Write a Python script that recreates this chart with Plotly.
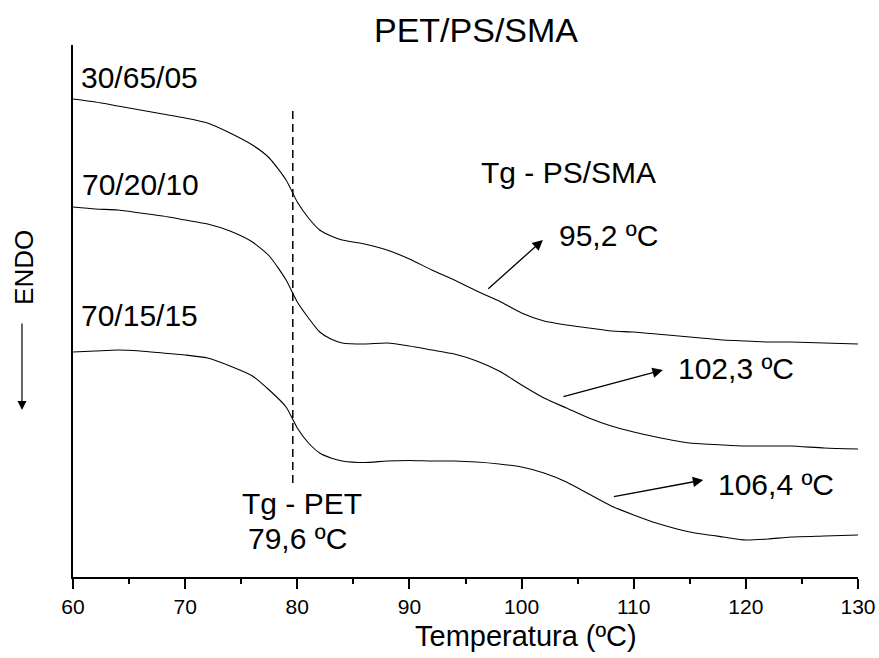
import plotly.graph_objects as go

# DSC heating scans of PET/PS/SMA blends (heat flow in arbitrary units, curves offset)
temperature = [60, 62, 64, 66, 68, 70, 72, 74, 76, 77.5, 79, 80, 81, 82, 83, 84, 86, 88,
               90, 92, 94, 96, 98, 100, 102, 104, 106, 108, 110, 112, 115, 118, 120, 122,
               124, 127, 130]

flow_30_65_05 = [4.78, 4.75, 4.71, 4.67, 4.63, 4.59, 4.54, 4.44, 4.32, 4.19, 3.97, 3.75,
                 3.59, 3.47, 3.41, 3.37, 3.33, 3.27, 3.18, 3.07, 2.97, 2.86, 2.76, 2.64,
                 2.56, 2.52, 2.49, 2.46, 2.45, 2.43, 2.40, 2.37, 2.36, 2.35, 2.35, 2.34, 2.33]

flow_70_20_10 = [3.70, 3.68, 3.67, 3.64, 3.61, 3.57, 3.53, 3.46, 3.35, 3.21, 2.97, 2.75,
                 2.59, 2.45, 2.38, 2.34, 2.33, 2.34, 2.31, 2.27, 2.23, 2.16, 2.06, 1.92,
                 1.79, 1.69, 1.59, 1.51, 1.45, 1.40, 1.34, 1.32, 1.31, 1.31, 1.31, 1.29, 1.28]

flow_70_15_15 = [2.25, 2.26, 2.27, 2.26, 2.24, 2.22, 2.19, 2.11, 2.01, 1.87, 1.70, 1.49,
                 1.34, 1.24, 1.19, 1.16, 1.145, 1.16, 1.165, 1.16, 1.16, 1.15, 1.13, 1.10,
                 1.04, 0.95, 0.83, 0.71, 0.62, 0.54, 0.45, 0.40, 0.37, 0.38, 0.40, 0.41, 0.42]

compositions = ["30/65/05", "70/20/10", "70/15/15"]
label_pos = [(60.55, 5.00), (60.62, 3.93), (60.55, 2.62)]

tg_pet = 79.6
tg_pet_span = (0.94, 4.69)

tg_ps_sma = ["95,2 ºC", "102,3 ºC", "106,4 ºC"]
# arrow tail (on curve) -> head (next to label), in temperature / heat-flow units
tg_arrows = [((96.9, 2.87), (101.9, 3.37)),
             ((103.6, 1.80), (112.6, 2.07)),
             ((108.1, 0.80), (116.2, 0.97))]
tg_label_pos = [(103.15, 3.42), (113.75, 2.09), (117.3, 0.93)]

x_ticks = [60, 70, 80, 90, 100, 110, 120, 130]

FONT = "Liberation Sans, Arial, Helvetica, sans-serif"
BLACK = "#000000"
LABEL_SIZE = 30

fig = go.Figure()

for flow in (flow_30_65_05, flow_70_20_10, flow_70_15_15):
    fig.add_trace(go.Scatter(
        x=temperature, y=flow, mode="lines",
        line=dict(color=BLACK, width=1.1, shape="spline", smoothing=0.6),
        hoverinfo="skip", showlegend=False,
    ))

# Tg of PET, dashed vertical marker
fig.add_trace(go.Scatter(
    x=[tg_pet, tg_pet], y=list(tg_pet_span), mode="lines",
    line=dict(color=BLACK, width=1.5, dash="8px,5px"),
    hoverinfo="skip", showlegend=False,
))

annotations = []
for name, (x, y) in zip(compositions, label_pos):
    annotations.append(dict(x=x, y=y, xref="x", yref="y", text=name, showarrow=False,
                            xanchor="left", yanchor="middle",
                            font=dict(family=FONT, size=LABEL_SIZE, color=BLACK)))

annotations.append(dict(x=96.2, y=4.05, xref="x", yref="y", text="Tg - PS/SMA",
                        showarrow=False, xanchor="left", yanchor="middle",
                        font=dict(family=FONT, size=LABEL_SIZE, color=BLACK)))

for text, (lx, ly) in zip(tg_ps_sma, tg_label_pos):
    annotations.append(dict(x=lx, y=ly, xref="x", yref="y", text=text, showarrow=False,
                            xanchor="left", yanchor="middle",
                            font=dict(family=FONT, size=LABEL_SIZE, color=BLACK)))

for (tail, head) in tg_arrows:
    annotations.append(dict(x=head[0], y=head[1], ax=tail[0], ay=tail[1],
                            xref="x", yref="y", axref="x", ayref="y", text="",
                            showarrow=True, arrowhead=2, arrowsize=1.6, arrowwidth=1.3,
                            arrowcolor=BLACK, standoff=0, startstandoff=0))

annotations.append(dict(x=80.38, y=0.74, xref="x", yref="y", text="Tg - PET",
                        showarrow=False, xanchor="center", yanchor="middle",
                        font=dict(family=FONT, size=LABEL_SIZE, color=BLACK)))
annotations.append(dict(x=80.02, y=0.39, xref="x", yref="y", text="79,6 ºC",
                        showarrow=False, xanchor="center", yanchor="middle",
                        font=dict(family=FONT, size=LABEL_SIZE, color=BLACK)))

# Title, axis title and the ENDO direction marker
annotations.append(dict(x=0.514, y=1.028, xref="paper", yref="paper", text="PET/PS/SMA",
                        showarrow=False, xanchor="center", yanchor="middle",
                        font=dict(family=FONT, size=34, color=BLACK)))
annotations.append(dict(x=0.577, y=-0.11, xref="paper", yref="paper",
                        text="Temperatura (ºC)", showarrow=False,
                        xanchor="center", yanchor="middle",
                        font=dict(family=FONT, size=29, color=BLACK)))
annotations.append(dict(x=-0.0624, y=0.581, xref="paper", yref="paper", text="ENDO",
                        textangle=-90, showarrow=False, xanchor="center", yanchor="middle",
                        font=dict(family=FONT, size=26, color=BLACK)))
annotations.append(dict(x=-0.065, y=0.314, ax=0, ay=-88,
                        xref="paper", yref="paper", axref="pixel", ayref="pixel",
                        text="", showarrow=True, arrowhead=2, arrowsize=1.5,
                        arrowwidth=1.2, arrowcolor=BLACK, standoff=0, startstandoff=0))

fig.update_layout(
    width=879, height=658,
    margin=dict(l=73, r=21, t=45, b=81, autoexpand=False),
    paper_bgcolor="white", plot_bgcolor="white",
    annotations=annotations,
    xaxis=dict(
        range=[60, 130], tickvals=x_ticks, ticktext=[str(t) for t in x_ticks],
        automargin=False,
        showline=True, linecolor=BLACK, linewidth=2, mirror=False,
        ticks="outside", ticklen=10, tickwidth=2, tickcolor=BLACK,
        minor=dict(dtick=5, tick0=60, ticks="outside", ticklen=5, tickwidth=2,
                   tickcolor=BLACK, showgrid=False),
        showgrid=False, zeroline=False,
        tickfont=dict(family=FONT, size=21, color=BLACK),
    ),
    yaxis=dict(
        range=[0, 5.32], automargin=False,
        showline=True, linecolor=BLACK, linewidth=2,
        showticklabels=False, ticks="", showgrid=False, zeroline=False,
    ),
)

fig.write_html("out.html")
